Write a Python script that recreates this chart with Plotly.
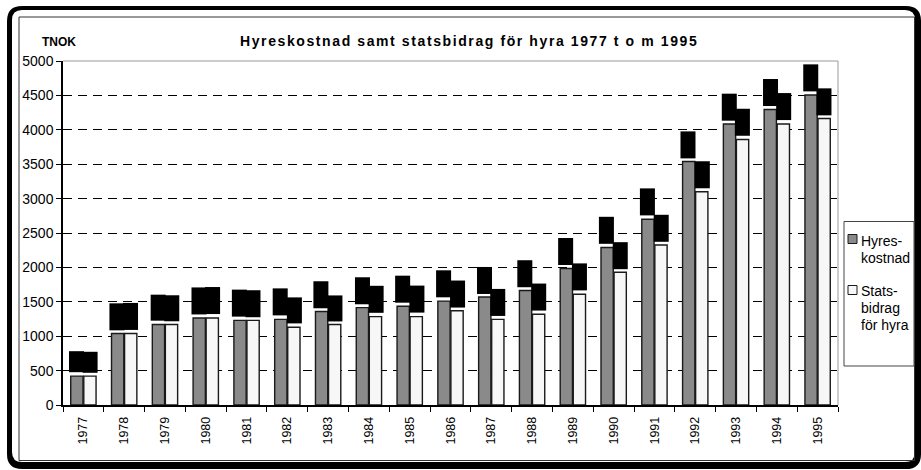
import plotly.graph_objects as go

years = ["1977", "1978", "1979", "1980", "1981", "1982", "1983", "1984", "1985", "1986",
         "1987", "1988", "1989", "1990", "1991", "1992", "1993", "1994", "1995"]
hyreskostnad = [420, 1040, 1170, 1265, 1230, 1245, 1360, 1415, 1435, 1510,
                1570, 1665, 1985, 2290, 2700, 3540, 4085, 4295, 4505]
statsbidrag = [420, 1040, 1170, 1265, 1230, 1130, 1170, 1285, 1285, 1370,
               1245, 1320, 1610, 1930, 2325, 3100, 3860, 4085, 4165]
series_names = ["Hyreskostnad", "Statsbidrag för hyra"]
legend_lines = [["Hyres-", "kostnad"], ["Stats-", "bidrag", "för hyra"]]
title_text = "Hyreskostnad samt statsbidrag för hyra 1977 t o m 1995"
unit_text = "TNOK"

FONT = "Liberation Sans, Arial, sans-serif"
W, H = 921, 470
# plot area in screen pixels
SX0, SX1, SY0, SY1 = 63, 838, 61, 405
L, R, T, B = SX0, W - SX1, SY0, H - SY1
PW, PH = SX1 - SX0, SY1 - SY0


def px(x):
    return (x - SX0) / PW


def py(y):
    return (SY1 - y) / PH


def rrect(x0, y0, x1, y1, r):
    def P(x, y):
        return f"{px(x):.5f},{py(y):.5f}"
    return (f"M {P(x0 + r, y0)} L {P(x1 - r, y0)} Q {P(x1, y0)} {P(x1, y0 + r)} "
            f"L {P(x1, y1 - r)} Q {P(x1, y1)} {P(x1 - r, y1)} "
            f"L {P(x0 + r, y1)} Q {P(x0, y1)} {P(x0, y1 - r)} "
            f"L {P(x0, y0 + r)} Q {P(x0, y0)} {P(x0 + r, y0)} Z")


fig = go.Figure()
fig.add_trace(go.Bar(x=years, y=hyreskostnad, name=series_names[0],
                     marker=dict(color="#8a8a8a", line=dict(color="#1a1a1a", width=1.4))))
fig.add_trace(go.Bar(x=years, y=statsbidrag, name=series_names[1],
                     marker=dict(color="#f7f7f7", line=dict(color="#1a1a1a", width=1.4))))

annotations = []
# data labels rendered as black boxes
for vals, shift in ((hyreskostnad, -6.8), (statsbidrag, 6.8)):
    for i, v in enumerate(vals):
        annotations.append(dict(x=i, y=v, xref="x", yref="y", text=str(v), showarrow=False,
                                textangle=-90, font=dict(family=FONT, size=10.5, color="black"),
                                bgcolor="black", xshift=shift, yanchor="bottom", yshift=3,
                                borderpad=1))

annotations.append(dict(x=px(469), y=py(41), xref="paper", yref="paper",
                        text=f"<b><span style='letter-spacing:1.6px'>{title_text}</span></b>",
                        showarrow=False, font=dict(family=FONT, size=14, color="black"),
                        xanchor="center", yanchor="middle"))
annotations.append(dict(x=px(58.5), y=py(41.5), xref="paper", yref="paper", text=f"<b>{unit_text}</b>",
                        showarrow=False, font=dict(family=FONT, size=12, color="black"),
                        xanchor="center", yanchor="middle"))
# legend texts, one annotation per line
legend_line_y = [[241.5, 257.5], [290.5, 307.5, 324.5]]
for lines, ys in zip(legend_lines, legend_line_y):
    for txt, yy in zip(lines, ys):
        annotations.append(dict(x=px(859), y=py(yy), xref="paper", yref="paper", text=txt,
                                showarrow=False, font=dict(family=FONT, size=14, color="black"),
                                xanchor="left", yanchor="middle", align="left"))

shapes = [
    dict(type="path", xref="paper", yref="paper", path=rrect(7, 6, 921, 469, 15),
         fillcolor="black", line=dict(width=0), layer="below"),
    dict(type="path", xref="paper", yref="paper", path=rrect(12, 10, 915, 462, 10),
         fillcolor="white", line=dict(width=0), layer="below"),
    dict(type="rect", xref="paper", yref="paper", x0=px(19), y0=py(460.5), x1=px(914.5), y1=py(17),
         line=dict(color="#333", width=1), layer="below"),
    # plot area top / right border
    dict(type="line", xref="paper", yref="paper", x0=0, x1=1, y0=1, y1=1,
         line=dict(color="#999", width=1), layer="below"),
    dict(type="line", xref="paper", yref="paper", x0=1, x1=1, y0=0, y1=1,
         line=dict(color="#999", width=1), layer="below"),
    # legend
    dict(type="rect", xref="paper", yref="paper", x0=px(844), x1=px(914), y0=py(366), y1=py(221.5),
         line=dict(color="#444", width=1), fillcolor="white"),
    dict(type="rect", xref="paper", yref="paper", x0=px(848), x1=px(857), y0=py(243.5), y1=py(234.5),
         line=dict(color="#1a1a1a", width=1), fillcolor="#8a8a8a"),
    dict(type="rect", xref="paper", yref="paper", x0=px(848), x1=px(857), y0=py(294.5), y1=py(285.5),
         line=dict(color="#1a1a1a", width=1), fillcolor="#f7f7f7"),
]

fig.update_layout(
    width=W, height=H,
    margin=dict(l=L, r=R, t=T, b=B, pad=0),
    paper_bgcolor="white", plot_bgcolor="rgba(0,0,0,0)",
    barmode="group", bargap=0.36, bargroupgap=0.06,
    showlegend=False,
    font=dict(family=FONT, color="black"),
    annotations=annotations,
    shapes=shapes,
)
fig.update_xaxes(type="category", range=[-0.5, len(years) - 0.5], autorange=False,
                 tickson="boundaries", ticks="outside", ticklen=5, ticklabelstandoff=5,
                 tickcolor="black", tickwidth=1.3, showline=True, linecolor="black", linewidth=1.5,
                 tickangle=-90, tickfont=dict(family=FONT, size=12.5, color="black"),
                 showgrid=False)
fig.update_yaxes(range=[0, 5000], autorange=False, dtick=500, tick0=0, ticks="outside", ticklen=5,
                 tickcolor="black", tickwidth=1.3, showline=True, linecolor="black", linewidth=1.5,
                 showgrid=True, gridcolor="black", gridwidth=1, griddash="9px,6px",
                 zeroline=False, tickfont=dict(family=FONT, size=14, color="black"))

fig.write_html("out.html", config={"displayModeBar": False},
               post_script="document.body.style.margin='0px';")
